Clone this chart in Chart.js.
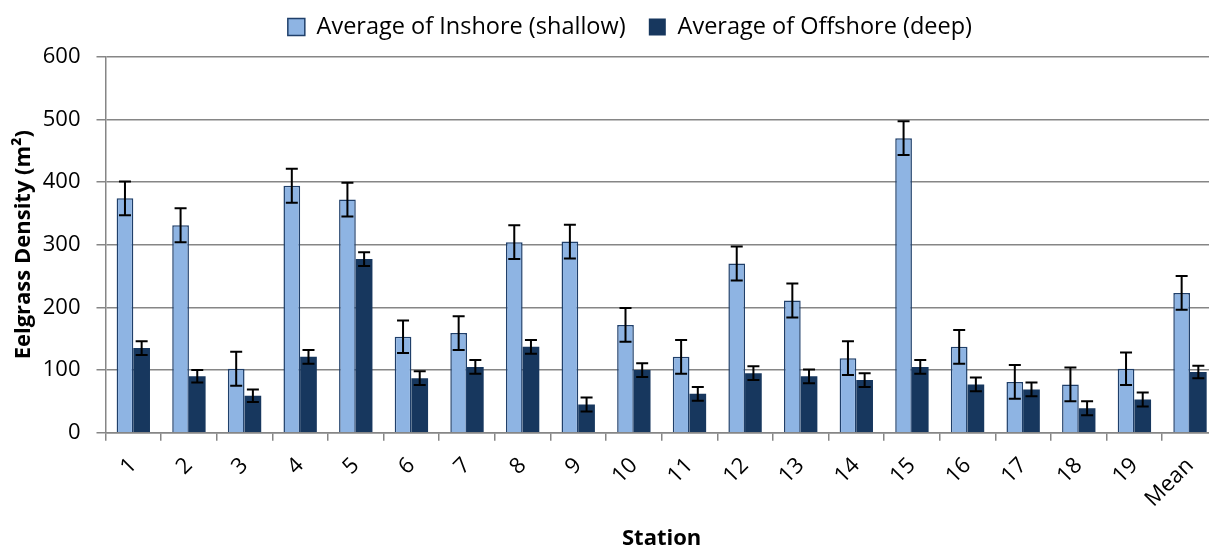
<!DOCTYPE html>
<html>
<head>
<meta charset="utf-8">
<script src="https://cdn.jsdelivr.net/npm/chart.js@4/dist/chart.umd.min.js"></script>
<style>
  html, body { margin: 0; padding: 0; background: #fff; overflow: hidden; }
  #wrap { width: 1230px; height: 552px; }
</style>
</head>
<body>
<div id="wrap"><canvas id="grafico" width="1230" height="552"></canvas></div>
<script>
const estaciones = ["1","2","3","4","5","6","7","8","9","10","11","12","13","14","15","16","17","18","19","Mean"];
const inshore  = [374, 331, 102, 394, 372, 153, 159, 304, 305, 172, 121, 270, 211, 119, 470, 137, 81, 77, 102, 223];
const offshore = [135,  90,  59, 121, 277,  87, 105, 137,  45, 100,  62,  95,  90,  84, 105,  77, 69, 39,  53,  97];
const errInshore  = [27, 27, 27, 27, 27, 26, 27, 27, 27, 27, 27, 27, 27, 27, 27, 27, 27, 27, 26, 27];
const errOffshore = [11, 10, 10, 11, 11, 11, 11, 11, 11, 11, 11, 11, 11, 11, 11, 11, 11, 11, 11, 10];
const yTicks = [0, 100, 200, 300, 400, 500, 600];

const FUENTE = "'Open Sans', 'DejaVu Sans', sans-serif";
const GRIS = '#868686';

/* ---------- barras de error ---------- */
const barrasError = {
  id: 'barrasError',
  afterDatasetsDraw(chart){
    const {ctx, scales:{y}} = chart;
    ctx.save();
    ctx.strokeStyle = '#000';
    ctx.lineWidth = 2;
    chart.data.datasets.forEach((ds, i) => {
      const meta = chart.getDatasetMeta(i);
      meta.data.forEach((bar, j) => {
        const v = ds.data[j], e = ds.errores[j];
        const yTop = y.getPixelForValue(v + e), yBot = y.getPixelForValue(v - e);
        const x = bar.x, cap = 6;
        ctx.beginPath();
        ctx.moveTo(x, yTop); ctx.lineTo(x, yBot);
        ctx.moveTo(x - cap, yTop); ctx.lineTo(x + cap, yTop);
        ctx.moveTo(x - cap, yBot); ctx.lineTo(x + cap, yBot);
        ctx.stroke();
      });
    });
    ctx.restore();
  }
};

/* ---------- leyenda desplazada ---------- */
const moverLeyenda = {
  id: 'moverLeyenda',
  afterLayout(chart){
    const lg = chart.legend;
    const dx = 21, dy = -8;
    lg.left += dx; lg.right += dx;
    lg.top += dy; lg.bottom += dy;
  }
};

new Chart(document.getElementById('grafico'), {
  type: 'bar',
  data: {
    labels: estaciones,
    datasets: [
      { label: 'Average of Inshore (shallow)', data: inshore, errores: errInshore,
        backgroundColor: '#8EB4E3', borderColor: '#1F3F6A', borderWidth: 1.5, borderSkipped: 'bottom' },
      { label: 'Average of Offshore (deep)', data: offshore, errores: errOffshore,
        backgroundColor: '#17375E', borderColor: '#17375E', borderWidth: 0 }
    ]
  },
  options: {
    responsive: false,
    animation: false,
    layout: { padding: { left: 0, right: 12.2, top: 0, bottom: 0 } },
    datasets: { bar: { barPercentage: 1, categoryPercentage: 0.6 } },
    plugins: {
      legend: {
        position: 'top',
        labels: { color: '#000', boxWidth: 17, boxHeight: 17, padding: 23.2,
                  font: { family: FUENTE, size: 23.5 } }
      },
      tooltip: { enabled: false }
    },
    scales: {
      x: {
        afterFit(s){ s.height = 119.3; },
        grid: { drawOnChartArea: false, drawTicks: true, tickLength: 8, color: GRIS, lineWidth: 1.5, offset: true },
        border: { color: GRIS, width: 1.5 },
        ticks: { color: '#000', autoSkip: false, minRotation: 45, maxRotation: 45, padding: 12,
                 font: { family: FUENTE, size: 22 } },
        title: { display: true, text: 'Station', color: '#000', padding: { top: 0, bottom: 0 },
                 font: { family: FUENTE, size: 22, weight: 'bold' } }
      },
      y: {
        min: 0, max: 600,
        afterFit(s){ s.width = 105.5; },
        afterBuildTicks(s){ s.ticks = yTicks.map(v => ({ value: v })); },
        grid: { color: GRIS, lineWidth: 1.5, tickLength: 9 },
        border: { color: GRIS, width: 1.5 },
        ticks: { color: '#000', padding: 16, font: { family: FUENTE, size: 22 } },
        title: { display: true, text: 'Eelgrass Density (m²)', color: '#000', padding: { top: 11, bottom: 0 },
                 font: { family: FUENTE, size: 22, weight: 'bold' } }
      }
    }
  },
  plugins: [barrasError, moverLeyenda]
});
</script>
</body>
</html>
